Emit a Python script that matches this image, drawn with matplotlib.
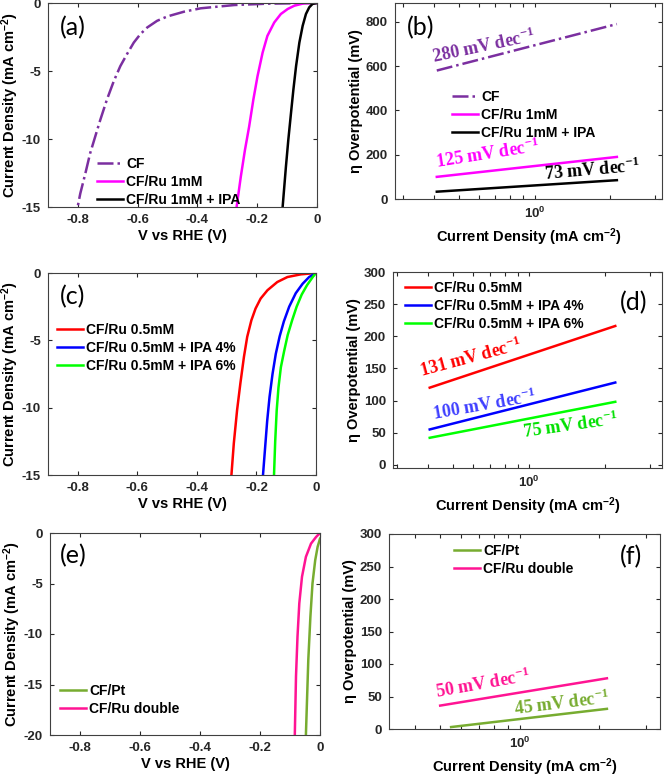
import matplotlib
matplotlib.use("Agg")
import matplotlib.pyplot as plt
import matplotlib.ticker as mticker
import numpy as np

# ---------------- data ----------------
# Panel (a): LSV curves (V vs RHE, current density mA cm-2)
a_cf_v = [0.0, -0.166, -0.277, -0.389, -0.445, -0.501, -0.535, -0.568, -0.591, -0.613,
          -0.636, -0.658, -0.680, -0.703, -0.725, -0.742, -0.759, -0.775, -0.792, -0.801]
a_cf_j = [0.0, -0.05, -0.15, -0.39, -0.64, -0.99, -1.31, -1.80, -2.29, -2.91,
          -3.77, -4.64, -5.75, -7.11, -8.59, -9.82, -11.05, -12.53, -14.01, -15.0]
a_ru_v = [0.0, -0.043, -0.076, -0.098, -0.121, -0.143, -0.166, -0.182, -0.199, -0.213,
          -0.227, -0.241, -0.255, -0.269]
a_ru_j = [0.0, -0.02, -0.2, -0.44, -0.81, -1.43, -2.42, -3.65, -5.38, -7.11,
          -9.08, -10.8, -12.78, -15.0]
a_ipa_v = [0.0, -0.015, -0.026, -0.037, -0.048, -0.059, -0.070, -0.079, -0.087, -0.096,
           -0.104, -0.115]
a_ipa_j = [0.0, -0.07, -0.32, -0.81, -1.68, -2.91, -4.64, -6.37, -8.09, -10.07,
           -12.04, -15.0]

# Panel (b): Tafel lines (current density, overpotential mV)
b_x = [0.41, 2.12]
b_cf = [580, 790]
b_ru = [100, 190]
b_ipa = [33, 85]

# Panel (c)
c_05_v = [0.0, -0.051, -0.096, -0.130, -0.163, -0.186, -0.203, -0.217, -0.231, -0.242,
          -0.254, -0.265, -0.276, -0.284]
c_05_j = [0.0, -0.10, -0.30, -0.67, -1.28, -1.90, -2.64, -3.51, -4.74, -6.23,
          -8.20, -10.18, -12.65, -15.0]
c_4_v = [0.0, -0.023, -0.045, -0.068, -0.090, -0.108, -0.122, -0.135, -0.146, -0.156,
         -0.164, -0.171, -0.178]
c_4_j = [0.0, -0.3, -0.8, -1.5, -2.5, -3.6, -4.7, -6.0, -7.5, -9.2,
         -11.0, -13.0, -15.0]
c_6_v = [0.0, -0.011, -0.030, -0.048, -0.065, -0.080, -0.095, -0.107, -0.118, -0.126,
         -0.132, -0.137, -0.141]
c_6_j = [0.0, -0.3, -0.9, -1.6, -2.5, -3.5, -4.6, -5.8, -7.0, -8.5,
         -10.2, -12.5, -15.0]

# Panel (d)
d_x = [0.405, 2.19]
d_05 = [120, 216]
d_4 = [55, 128]
d_6 = [42, 98]

# Panel (e)
e_pt_v = [0.0, -0.008, -0.016, -0.025, -0.032, -0.039, -0.047]
e_pt_j = [-0.56, -1.38, -2.70, -4.99, -8.28, -12.55, -20.0]
e_ru_v = [0.0, -0.013, -0.030, -0.047, -0.060, -0.069, -0.075, -0.080, -0.084]
e_ru_j = [0.0, -0.39, -1.05, -2.36, -4.33, -6.96, -10.25, -14.19, -20.0]

# Panel (f)
f_ru_x = [0.50, 2.14]
f_ru = [36, 78]
f_pt_x = [0.55, 2.14]
f_pt = [3, 31]

# ---------------- style ----------------
plt.rcParams['font.family'] = ['Liberation Sans', 'DejaVu Sans']
plt.rcParams['font.weight'] = 'bold'
plt.rcParams['axes.labelweight'] = 'bold'
plt.rcParams['mathtext.default'] = 'regular'
plt.rcParams['axes.edgecolor'] = '#404040'
plt.rcParams['xtick.color'] = '#262626'
plt.rcParams['ytick.color'] = '#262626'
plt.rcParams['axes.linewidth'] = 0.8

PURPLE = '#7B2FA0'
MAGENTA = '#FF00FF'
PINK = '#FF1493'
GREEN2 = '#77AC30'

W, H = 665, 777
fig = plt.figure(figsize=(W / 100, H / 100), dpi=100)


def make_ax(l, t, r, b):
    ax = fig.add_axes([l / W, 1 - b / H, (r - l) / W, (b - t) / H])
    return ax


def finish_ticks(ax):
    ax.tick_params(which='major', direction='in', top=True, right=True, length=3,
                   labelsize=9.5, pad=5)
    ax.tick_params(which='minor', direction='in', top=True, right=True, length=3,
                   width=0.8)
    for lab in ax.get_xticklabels() + ax.get_yticklabels():
        lab.set_fontweight('bold')


def logx(ax, lo, hi):
    ax.set_xscale('log')
    ax.set_xlim(lo, hi)
    ax.xaxis.set_major_locator(mticker.FixedLocator([1]))
    ax.xaxis.set_major_formatter(mticker.FixedFormatter(['$\\mathregular{10^{0}}$']))
    ax.xaxis.set_minor_locator(mticker.FixedLocator(
        [v for v in [0.2, 0.3, 0.4, 0.5, 0.6, 0.7, 0.8, 0.9, 2, 3, 4] if lo < v < hi]))
    ax.xaxis.set_minor_formatter(mticker.NullFormatter())


def panel_label(ax, txt, x, y):
    ax.text(x, y, txt, transform=ax.transAxes, fontsize=18, fontweight='normal',
            family=['Lato', 'DejaVu Sans'], ha='left', va='center', color='black')


def slope_text(ax, txt, x, y, rot, color):
    ax.text(x, y, txt + ' mV dec$^{\\mathregular{-1}}$', transform=ax.transAxes,
            fontsize=13, fontweight='bold', family=['Liberation Serif', 'DejaVu Serif'],
            rotation=rot, rotation_mode='anchor', ha='left', va='baseline', color=color)


def leg(ax, x, y):
    return ax.legend(frameon=False, loc='upper left', bbox_to_anchor=(x, y),
                     borderpad=0, borderaxespad=0, handlelength=1.9, handletextpad=0.2,
                     labelspacing=0.3, prop={'weight': 'bold', 'size': 10})


def fx(box, px):
    l, t, r, b = box
    return (px - l) / (r - l)


def fy(box, py):
    l, t, r, b = box
    return (b - py) / (b - t)


JLABEL = 'Current Density (mA cm$^{\\mathregular{-2}}$)'
ETALABEL = 'η Overpotential (mV)'
VTICKS = [-0.8, -0.6, -0.4, -0.2, 0]
VLABELS = ['-0.8', '-0.6', '-0.4', '-0.2', '0']

# ---- (a)
box = (48, 3, 317, 207)
ax = make_ax(*box)
ax.plot(a_cf_v, a_cf_j, color=PURPLE, lw=1.8, ls='-.', label='CF')
ax.plot(a_ru_v, a_ru_j, color=MAGENTA, lw=1.8, label='CF/Ru 1mM')
ax.plot(a_ipa_v, a_ipa_j, color='black', lw=1.8, label='CF/Ru 1mM + IPA')
ax.set_xlim(-0.9, 0)
ax.set_ylim(-15, 0)
ax.set_xticks(VTICKS)
ax.set_xticklabels(VLABELS)
ax.set_yticks([-15, -10, -5, 0])
ax.set_yticklabels(['-15', '-10', '-5', '0'])
finish_ticks(ax)
ax.set_xlabel('V vs RHE (V)', fontsize=10.5, labelpad=2)
ax.set_ylabel(JLABEL, fontsize=10.5, labelpad=1)
leg(ax, fx(box, 97), fy(box, 157))
panel_label(ax, '(a)', fx(box, 60), fy(box, 28))

# ---- (b)
box = (395, 3, 662, 199)
ax = make_ax(*box)
ax.plot(b_x, b_cf, color=PURPLE, lw=1.8, ls='-.', label='CF')
ax.plot(b_x, b_ru, color=MAGENTA, lw=1.8, label='CF/Ru 1mM')
ax.plot(b_x, b_ipa, color='black', lw=1.8, label='CF/Ru 1mM + IPA')
logx(ax, 0.28, 3.2)
ax.set_ylim(0, 885)
ax.set_yticks([0, 200, 400, 600, 800])
finish_ticks(ax)
ax.set_xlabel(JLABEL, fontsize=10.5, labelpad=4)
ax.set_ylabel(ETALABEL, fontsize=10.5, labelpad=2)
leg(ax, fx(box, 452), fy(box, 90))
panel_label(ax, '(b)', fx(box, 407), fy(box, 28))
slope_text(ax, '280', fx(box, 434), fy(box, 63), 12, PURPLE)
slope_text(ax, '125', fx(box, 437), fy(box, 168), 9, MAGENTA)
slope_text(ax, '73', fx(box, 545), fy(box, 180), 5, 'black')

# ---- (c)
box = (48, 273, 316, 475)
ax = make_ax(*box)
ax.plot(c_05_v, c_05_j, color='#FF0000', lw=1.8, label='CF/Ru 0.5mM')
ax.plot(c_4_v, c_4_j, color='#0000FF', lw=1.8, label='CF/Ru 0.5mM + IPA 4%')
ax.plot(c_6_v, c_6_j, color='#00FF00', lw=1.8, label='CF/Ru 0.5mM + IPA 6%')
ax.set_xlim(-0.9, 0)
ax.set_ylim(-15, 0)
ax.set_xticks(VTICKS)
ax.set_xticklabels(VLABELS)
ax.set_yticks([-15, -10, -5, 0])
ax.set_yticklabels(['-15', '-10', '-5', '0'])
finish_ticks(ax)
ax.set_xlabel('V vs RHE (V)', fontsize=10.5, labelpad=2)
ax.set_ylabel(JLABEL, fontsize=10.5, labelpad=1)
leg(ax, fx(box, 57), fy(box, 323))
panel_label(ax, '(c)', fx(box, 60), fy(box, 297))

# ---- (d)
box = (393, 272, 662, 468)
ax = make_ax(*box)
ax.plot(d_x, d_05, color='#FF0000', lw=1.8, label='CF/Ru 0.5mM')
ax.plot(d_x, d_4, color='#0000FF', lw=1.8, label='CF/Ru 0.5mM + IPA 4%')
ax.plot(d_x, d_6, color='#00FF00', lw=1.8, label='CF/Ru 0.5mM + IPA 6%')
logx(ax, 0.29, 3.35)
ax.set_ylim(-5, 300)
ax.set_yticks([0, 50, 100, 150, 200, 250, 300])
finish_ticks(ax)
ax.set_xlabel(JLABEL, fontsize=10.5, labelpad=4)
ax.set_ylabel(ETALABEL, fontsize=10.5, labelpad=2)
leg(ax, fx(box, 405), fy(box, 281))
panel_label(ax, '(d)', fx(box, 620), fy(box, 303))
slope_text(ax, '131', fx(box, 421), fy(box, 377), 15, '#FF0000')
slope_text(ax, '100', fx(box, 434), fy(box, 420), 10, '#3F3FFF')
slope_text(ax, '75', fx(box, 524), fy(box, 438), 8, '#00E000')

# ---- (e)
box = (50, 533, 320, 735)
ax = make_ax(*box)
ax.plot(e_pt_v, e_pt_j, color=GREEN2, lw=1.8, label='CF/Pt')
ax.plot(e_ru_v, e_ru_j, color=PINK, lw=1.8, label='CF/Ru double')
ax.set_xlim(-0.9, 0)
ax.set_ylim(-20, 0)
ax.set_xticks(VTICKS)
ax.set_xticklabels(VLABELS)
ax.set_yticks([-20, -15, -10, -5, 0])
ax.set_yticklabels(['-20', '-15', '-10', '-5', '0'])
finish_ticks(ax)
ax.set_xlabel('V vs RHE (V)', fontsize=10.5, labelpad=2)
ax.set_ylabel(JLABEL, fontsize=10.5, labelpad=1)
leg(ax, fx(box, 60), fy(box, 684))
panel_label(ax, '(e)', fx(box, 60), fy(box, 556))

# ---- (f)
box = (389, 534, 660, 729)
ax = make_ax(*box)
ax.plot(f_pt_x, f_pt, color=GREEN2, lw=1.8, label='CF/Pt')
ax.plot(f_ru_x, f_ru, color=PINK, lw=1.8, label='CF/Ru double')
logx(ax, 0.32, 3.4)
ax.set_ylim(0, 300)
ax.set_yticks([0, 50, 100, 150, 200, 250, 300])
finish_ticks(ax)
ax.set_xlabel(JLABEL, fontsize=10.5, labelpad=4)
ax.set_ylabel(ETALABEL, fontsize=10.5, labelpad=2)
leg(ax, fx(box, 454), fy(box, 544))
panel_label(ax, '(f)', fx(box, 620), fy(box, 557))
slope_text(ax, '50', fx(box, 437), fy(box, 698), 10, PINK)
slope_text(ax, '45', fx(box, 515), fy(box, 715), 7, GREEN2)

fig.savefig('out.png', dpi=100)
